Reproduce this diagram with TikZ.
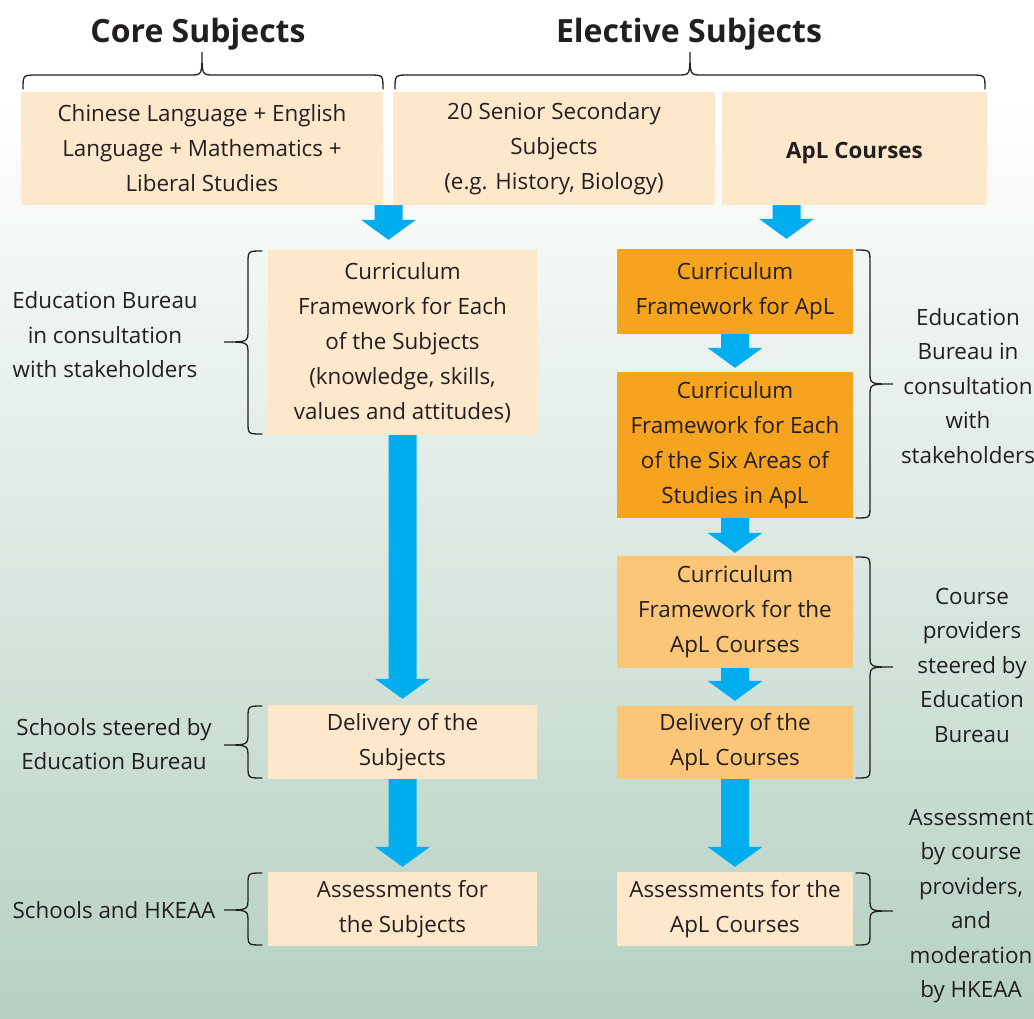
\documentclass[tikz,border=0pt]{standalone}
\usepackage{fontspec}
\setmainfont{Open Sans}
\usetikzlibrary{calc}
\definecolor{beige}{HTML}{FDE8CB}
\definecolor{orangeA}{HTML}{F6A41F}
\definecolor{orangeB}{HTML}{FBC677}
\definecolor{arrowblue}{HTML}{00AEEF}
\definecolor{txt}{HTML}{231F20}
\definecolor{bggreen}{HTML}{B5D1C2}
\newcommand\barrow[3]{\fill[arrowblue] let \p1=(#1), \p2=(#2) in
  (\x1-14pt,\y1) -- (\x1+14pt,\y1) -- (\x1+14pt,\y2+#3pt+20pt) -- (\x1+27.5pt,\y2+#3pt+20pt)
  -- (\x1,\y2+#3pt) -- (\x1-27.5pt,\y2+#3pt+20pt) -- (\x1-14pt,\y2+#3pt+20pt) -- cycle;}
% vertical brace: #1 end x, #2 spine x, #3 tip x, #4 top y, #5 tip y, #6 bottom y
\newcommand\vbrc[6]{\draw[bracestyle] (#1,#4) .. controls (#2,#4) .. (#2,#4+12)
  -- (#2,#5-12) .. controls (#2,#5) .. (#3,#5) .. controls (#2,#5) .. (#2,#5+12)
  -- (#2,#6-12) .. controls (#2,#6) .. (#1,#6);}
% horizontal brace: #1 left x, #2 tip x, #3 right x, #4 end y, #5 spine y, #6 tip y
\newcommand\hbrc[6]{\draw[bracestyle] (#1,#4) .. controls (#1,#5) .. (#1+14,#5)
  -- (#2-12,#5) .. controls (#2,#5) .. (#2,#6) .. controls (#2,#5) .. (#2+12,#5)
  -- (#3-14,#5) .. controls (#3,#5) .. (#3,#4);}
\begin{document}
\begin{tikzpicture}[x=1pt,y=-1pt,
  box/.style={fill=#1, inner sep=0pt, align=center, text=txt, font=\fontsize{22.4}{35}\selectfont},
  lbl/.style={inner sep=0pt, align=center, text=txt, font=\fontsize{22.4}{34.5}\selectfont},
  ttl/.style={inner sep=0pt, anchor=base, text=txt, font=\bfseries\fontsize{32}{36}\selectfont},
  bracestyle/.style={draw=txt, line width=1.3pt, line cap=round}]
\useasboundingbox (0,0) rectangle (1034,1018);
\fill[white] (0,0) rectangle (1034,1018);
\shade[top color=white, bottom color=bggreen] (0,100) rectangle (1034,1018);
% titles
\node[ttl] (tcore) at (198,42) {Core Subjects};
\node[ttl] (telec) at (689,42) {Elective Subjects};
\hbrc{23}{202}{383}{89}{75}{52}
\hbrc{395}{690}{985}{89}{75}{52}
% top row
\node[box=beige, minimum width=362, minimum height=113] (core1) at (202,148.5)
  {Chinese Language + English\\Language + Mathematics +\\Liberal Studies};
\node[box=beige, minimum width=322, minimum height=113] (elec1) at (554,148.5)
  {20 Senior Secondary\\Subjects\\(e.g. History, Biology)};
\node[box=beige, minimum width=265, minimum height=113, text height=19pt, text depth=0pt] (apl0) at (854.5,148.5)
  {\bfseries ApL Courses};
% core column
\node[box=beige, minimum width=269, minimum height=185] (core2) at (402.5,342.5)
  {Curriculum\\Framework for Each\\of the Subjects\\(knowledge, skills,\\values and attitudes)};
\node[box=beige, minimum width=269, minimum height=74] (coredel) at (402.5,742)
  {Delivery of the\\Subjects};
\node[box=beige, minimum width=269, minimum height=74] (coreass) at (402.5,909)
  {Assessments for\\the Subjects};
% ApL column
\node[box=orangeA, minimum width=236, minimum height=85] (apl1) at (735,291.5)
  {Curriculum\\Framework for ApL};
\node[box=orangeA, minimum width=236, minimum height=146] (apl2) at (735,445)
  {Curriculum\\Framework for Each\\of the Six Areas of\\Studies in ApL};
\node[box=orangeB, minimum width=236, minimum height=112] (apl3) at (735,612)
  {Curriculum\\Framework for the\\ApL Courses};
\node[box=orangeB, minimum width=236, minimum height=73] (apl4) at (735,742.5)
  {Delivery of the\\ApL Courses};
\node[box=beige, minimum width=236, minimum height=74] (aplass) at (735,909)
  {Assessments for the\\ApL Courses};
% arrows
\coordinate (a1s) at (388.5,205);
\coordinate (a2s) at (786.5,205);
\barrow{a1s}{core2.north}{10}
\barrow{a2s}{apl1.north}{10}
\barrow{core2.south}{coredel.north}{6}
\barrow{coredel.south}{coreass.north}{5}
\barrow{apl1.south}{apl2.north}{4}
\barrow{apl2.south}{apl3.north}{3}
\barrow{apl3.south}{apl4.north}{5}
\barrow{apl4.south}{aplass.north}{5}
% left braces and labels
\vbrc{262}{248}{224}{251}{342}{434}
\vbrc{262}{248}{224}{706}{745}{778}
\vbrc{262}{248}{224}{873}{910}{945}
\node[lbl] (l1) at (105,335) {Education Bureau\\in consultation\\with stakeholders};
\node[lbl] (l2) at (114,744) {Schools steered by\\Education Bureau};
\node[lbl] (l3) at (114,910) {Schools and HKEAA};
% right braces and labels
\vbrc{856}{870}{893}{250}{384}{518}
\vbrc{856}{870}{893}{557}{667}{778}
\vbrc{856}{870}{893}{873}{911}{945}
\node[lbl] (r1) at (968,386) {Education\\Bureau in\\consultation\\with\\stakeholders};
\node[lbl] (r2) at (972,665) {Course\\providers\\steered by\\Education\\Bureau};
\node[lbl] (r3) at (971,906) {Assessment\\by course\\providers,\\and\\moderation\\by HKEAA};
\end{tikzpicture}
\end{document}
